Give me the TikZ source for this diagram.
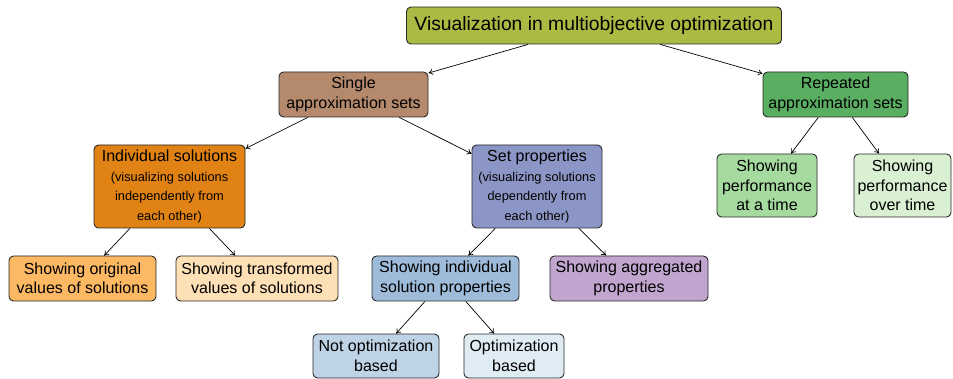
\documentclass[tikz,border=0pt]{standalone}
\usepackage{fontspec}
\setmainfont{Liberation Sans}
\usetikzlibrary{arrows.meta}
\definecolor{cTop}{RGB}{170,186,66}
\definecolor{cSingle}{RGB}{181,137,107}
\definecolor{cRep}{RGB}{90,174,97}
\definecolor{cPerfA}{RGB}{166,219,160}
\definecolor{cPerfB}{RGB}{217,240,211}
\definecolor{cInd}{RGB}{224,130,20}
\definecolor{cOrig}{RGB}{253,184,99}
\definecolor{cTrans}{RGB}{254,224,182}
\definecolor{cSet}{RGB}{140,150,198}
\definecolor{cIndP}{RGB}{158,188,218}
\definecolor{cAggr}{RGB}{194,165,207}
\definecolor{cNot}{RGB}{191,211,230}
\definecolor{cOpt}{RGB}{224,236,244}
\definecolor{cBorder}{RGB}{40,40,40}
\tikzset{
  box/.style={draw=cBorder, line width=0.9pt, rounded corners=4.5pt, inner sep=0pt,
    align=center, font=\fontsize{16}{19.5}\selectfont},
  small/.style={font=\fontsize{12.8}{19.5}\selectfont},
  conn/.style={-{To[length=4.5pt,width=6pt]}, line width=0.7pt, black}
}
\begin{document}
\begin{tikzpicture}[x=1pt,y=-1pt]
\useasboundingbox (0,0) rectangle (953,379);
\node[box, fill=cTop, minimum width=375pt, minimum height=37pt, font=\fontsize{19.3}{22}\selectfont] (top) at (594,25.5) {Visualization in multiobjective optimization};
\node[box, fill=cSingle, minimum width=149pt, minimum height=45pt] (single) at (353.5,94.5) {Single\\approximation sets};
\node[box, fill=cRep, minimum width=145pt, minimum height=45pt] (rep) at (835.5,94.5) {Repeated\\approximation sets};
\node[box, small, fill=cInd, minimum width=151pt, minimum height=83pt] (ind) at (169.5,186.5) {{\fontsize{16}{19.5}\selectfont Individual solutions}\\(visualizing solutions\\independently from\\each other)};
\node[box, small, fill=cSet, minimum width=130pt, minimum height=83pt] (set) at (537,186.5) {{\fontsize{16}{19.5}\selectfont Set properties}\\(visualizing solutions\\dependently from\\each other)};
\node[box, fill=cPerfA, minimum width=100pt, minimum height=63pt] (perfa) at (767,185.5) {Showing\\performance\\at a time};
\node[box, fill=cPerfB, minimum width=97pt, minimum height=63pt] (perfb) at (902.5,185.5) {Showing\\performance\\over time};
\node[box, fill=cOrig, minimum width=147pt, minimum height=45pt] (orig) at (82.5,278.5) {Showing original\\values of solutions};
\node[box, fill=cTrans, minimum width=162pt, minimum height=45pt] (trans) at (257,278.5) {Showing transformed\\values of solutions};
\node[box, fill=cIndP, minimum width=147pt, minimum height=45pt] (indp) at (445.5,278.5) {Showing individual\\solution properties};
\node[box, fill=cAggr, minimum width=158pt, minimum height=45pt] (aggr) at (629,278.5) {Showing aggregated\\properties};
\node[box, fill=cNot, minimum width=126pt, minimum height=44pt] (notopt) at (376,356) {Not optimization\\based};
\node[box, fill=cOpt, minimum width=100pt, minimum height=44pt] (optb) at (514,356) {Optimization\\based};
\draw[conn] (top) -- (single);
\draw[conn] (top) -- (rep);
\draw[conn] (single) -- (ind);
\draw[conn] (single) -- (set);
\draw[conn] (rep) -- (perfa);
\draw[conn] (rep) -- (perfb);
\draw[conn] (ind) -- (orig);
\draw[conn] (ind) -- (trans);
\draw[conn] (set) -- (indp);
\draw[conn] (set) -- (aggr);
\draw[conn] (indp) -- (notopt);
\draw[conn] (indp) -- (optb);
\end{tikzpicture}
\end{document}
